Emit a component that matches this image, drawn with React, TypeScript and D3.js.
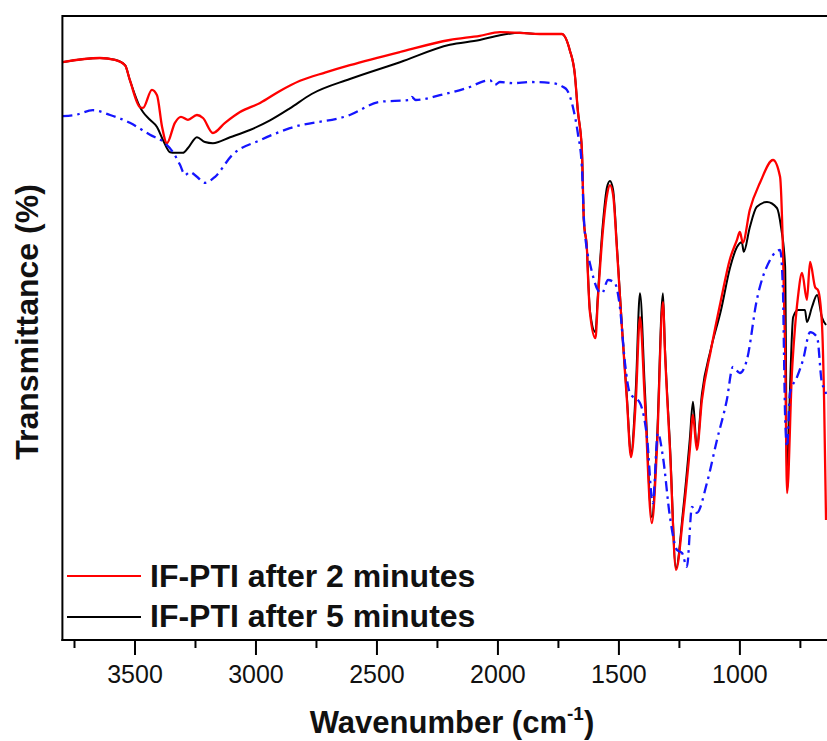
import React from "react";
import * as d3 from "d3";

type Pt = [number, number];

const red2min: Pt[] = [
  [3800, 96.3], [3645, 97.0], [3583, 96.7], [3541, 95.8], [3521, 93.3], [3479, 88.8], [3467, 88.7],
  [3430, 91.7], [3409, 90.8], [3388, 85.5], [3368, 82.8], [3335, 86.2], [3310, 87.2], [3281, 86.7],
  [3244, 87.5], [3219, 87.0], [3178, 84.5], [3128, 86.2], [3066, 88.0], [2983, 89.5], [2901, 91.5],
  [2818, 93.2], [2712, 94.6], [2612, 95.8], [2405, 98.0], [2199, 100.0], [2075, 100.7], [1992, 101.3],
  [1909, 101.2], [1827, 101.0], [1736, 101.0], [1703, 98.3], [1682, 94.2], [1670, 88.3], [1653, 81.7],
  [1645, 70.0], [1632, 65.0], [1628, 60.8], [1620, 54.7], [1597, 50.3], [1587, 56.7], [1566, 68.3],
  [1549, 74.2], [1537, 75.8], [1524, 74.2], [1508, 65.0], [1487, 51.7], [1467, 40.0], [1450, 30.5],
  [1430, 40.0], [1413, 53.8], [1393, 40.0], [1364, 19.5], [1343, 31.7], [1318, 56.3], [1310, 48.3],
  [1289, 31.7], [1264, 11.7], [1235, 20.5], [1207, 31.7], [1194, 37.5], [1178, 31.7], [1157, 40.0],
  [1120, 48.3], [1078, 56.7], [1041, 63.5], [1012, 66.7], [1000, 68.0], [988, 66.2], [959, 71.7],
  [917, 76.2], [863, 80.0], [834, 77.2], [822, 65.0], [813, 48.3], [805, 24.5], [785, 44.5],
  [773, 51.7], [760, 57.2], [743, 61.2], [723, 56.7], [710, 63.0], [689, 58.8], [677, 58.3],
  [661, 52.8], [652, 40.0], [644, 20.0],
];

const black5min: Pt[] = [
  [3800, 96.3], [3645, 97.0], [3583, 96.7], [3541, 95.8], [3521, 93.3], [3479, 88.8], [3467, 88.0],
  [3438, 86.7], [3409, 85.5], [3384, 83.3], [3355, 81.3], [3335, 81.2], [3302, 81.2], [3281, 82.0],
  [3244, 83.8], [3211, 83.0], [3178, 82.8], [3107, 83.8], [3025, 85.0], [2942, 86.6], [2860, 88.6],
  [2770, 91.0], [2612, 93.5], [2405, 96.3], [2199, 99.2], [2075, 100.0], [1992, 100.8], [1909, 101.2],
  [1827, 101.0], [1736, 101.0], [1703, 98.3], [1682, 94.2], [1670, 88.3], [1653, 81.7], [1645, 70.0],
  [1632, 65.0], [1628, 61.2], [1620, 55.0], [1597, 51.3], [1587, 57.5], [1566, 69.5], [1549, 75.5],
  [1537, 76.5], [1524, 75.0], [1508, 65.5], [1487, 52.0], [1467, 40.5], [1450, 31.0], [1430, 42.0],
  [1413, 57.8], [1393, 42.0], [1364, 20.5], [1343, 33.0], [1318, 57.8], [1310, 49.0], [1289, 32.5],
  [1264, 12.0], [1235, 21.5], [1207, 33.5], [1194, 39.7], [1178, 32.2], [1157, 41.0], [1120, 48.5],
  [1078, 55.0], [1041, 62.0], [1012, 65.5], [992, 66.3], [984, 64.7], [959, 68.8], [930, 72.2],
  [888, 73.0], [847, 72.0], [830, 68.8], [813, 62.2], [805, 25.0], [793, 41.7], [780, 53.8],
  [760, 55.0], [731, 55.0], [723, 53.0], [702, 55.5], [681, 57.5], [661, 53.8], [644, 52.5],
];

const blueRef: Pt[] = [
  [3800, 87.3], [3748, 87.5], [3674, 88.3], [3603, 87.5], [3521, 86.2], [3438, 84.2], [3376, 82.8],
  [3343, 81.3], [3314, 79.2], [3293, 77.5], [3273, 78.0], [3244, 77.2], [3211, 76.2], [3169, 77.2],
  [3099, 80.8], [2983, 83.3], [2860, 85.3], [2612, 87.5], [2488, 89.7], [2364, 90.0], [2356, 90.5],
  [2340, 90.0], [2240, 90.8], [2128, 92.0], [2033, 93.3], [2013, 92.5], [1992, 93.0], [1938, 92.8],
  [1868, 93.0], [1773, 92.8], [1732, 92.2], [1715, 91.7], [1690, 88.8], [1670, 84.5], [1653, 78.8],
  [1645, 70.5], [1632, 65.0], [1620, 62.8], [1587, 58.3], [1570, 57.8], [1545, 60.0], [1517, 59.5],
  [1496, 55.5], [1475, 46.2], [1455, 41.2], [1413, 39.5], [1384, 33.8], [1360, 22.8], [1339, 34.5],
  [1318, 30.5], [1289, 20.5], [1260, 15.0], [1239, 14.5], [1219, 12.2], [1198, 22.2], [1178, 21.2],
  [1136, 26.2], [1095, 33.3], [1054, 40.0], [1029, 45.5], [1000, 44.5], [971, 46.7], [930, 56.7],
  [876, 63.3], [834, 65.0], [822, 58.3], [818, 48.3], [813, 37.2], [805, 32.2], [793, 41.2],
  [764, 43.8], [739, 46.7], [710, 51.3], [681, 50.5], [661, 42.8], [648, 41.7], [644, 41.0],
];

const majorTicks = [3500, 3000, 2500, 2000, 1500, 1000];
const minorTicks = [3750, 3250, 2750, 2250, 1750, 1250, 750];
const legendLabels = ["IF-PTI after 2 minutes", "IF-PTI after 5 minutes"];

const W = 827;
const H = 741;
const L = 62.4;
const R = 827;
const T = 16;
const B = 640;
const FONT = "'Liberation Sans', Arial, Helvetica, sans-serif";

export default function App() {
  const x = d3.scaleLinear().domain([3800, 640]).range([L, R]);
  const y = d3.scaleLinear().domain([0, 104]).range([B, T]);
  const line = d3
    .line<Pt>()
    .x((d) => x(d[0]))
    .y((d) => y(d[1]))
    .curve(d3.curveMonotoneX);

  return (
    <svg
      width={W}
      height={H}
      style={{ position: "absolute", left: 0, top: 0, background: "#fff" }}
    >
      <defs>
        <clipPath id="plot">
          <rect x={L} y={T} width={R - L} height={B - T} />
        </clipPath>
      </defs>
      <g clipPath="url(#plot)" fill="none">
        <path d={line(black5min) || ""} stroke="#000" strokeWidth={2} />
        <path d={line(red2min) || ""} stroke="#ff0000" strokeWidth={2.3} />
        <path
          d={line(blueRef) || ""}
          stroke="#1515ff"
          strokeWidth={2.3}
          strokeDasharray="10,5,2.5,5"
        />
      </g>
      <line x1={L} x2={R} y1={T} y2={T} stroke="#000" strokeWidth={2} />
      <line x1={L} x2={L} y1={T - 1} y2={B + 1} stroke="#000" strokeWidth={2} />
      <line x1={L - 1} x2={R} y1={B} y2={B} stroke="#000" strokeWidth={2} />
      {majorTicks.map((t) => (
        <g key={"M" + t}>
          <line x1={x(t)} x2={x(t)} y1={B} y2={B + 15} stroke="#000" strokeWidth={2} />
          <text
            x={x(t)}
            y={683}
            textAnchor="middle"
            fontFamily={FONT}
            fontSize={25}
            fill="#111"
          >
            {t}
          </text>
        </g>
      ))}
      {minorTicks.map((t) => (
        <line key={"m" + t} x1={x(t)} x2={x(t)} y1={B} y2={B + 8} stroke="#000" strokeWidth={2} />
      ))}
      <line x1={67} x2={141} y1={576} y2={576} stroke="#ff0000" strokeWidth={2} />
      <text x={150} y={587} fontFamily={FONT} fontWeight="bold" fontSize={32} fill="#111">
        {legendLabels[0]}
      </text>
      <line x1={67} x2={141} y1={617} y2={617} stroke="#000" strokeWidth={2} />
      <text x={150} y={627} fontFamily={FONT} fontWeight="bold" fontSize={32} fill="#111">
        {legendLabels[1]}
      </text>
      <text
        x={452}
        y={733}
        textAnchor="middle"
        fontFamily={FONT}
        fontWeight="bold"
        fontSize={31}
        fill="#111"
      >
        Wavenumber (cm
        <tspan fontSize={19} dy={-13}>-1</tspan>
        <tspan dy={13}>)</tspan>
      </text>
      <text
        transform="translate(38,322) rotate(-90)"
        textAnchor="middle"
        fontFamily={FONT}
        fontWeight="bold"
        fontSize={32}
        fill="#111"
      >
        Transmittance (%)
      </text>
    </svg>
  );
}
